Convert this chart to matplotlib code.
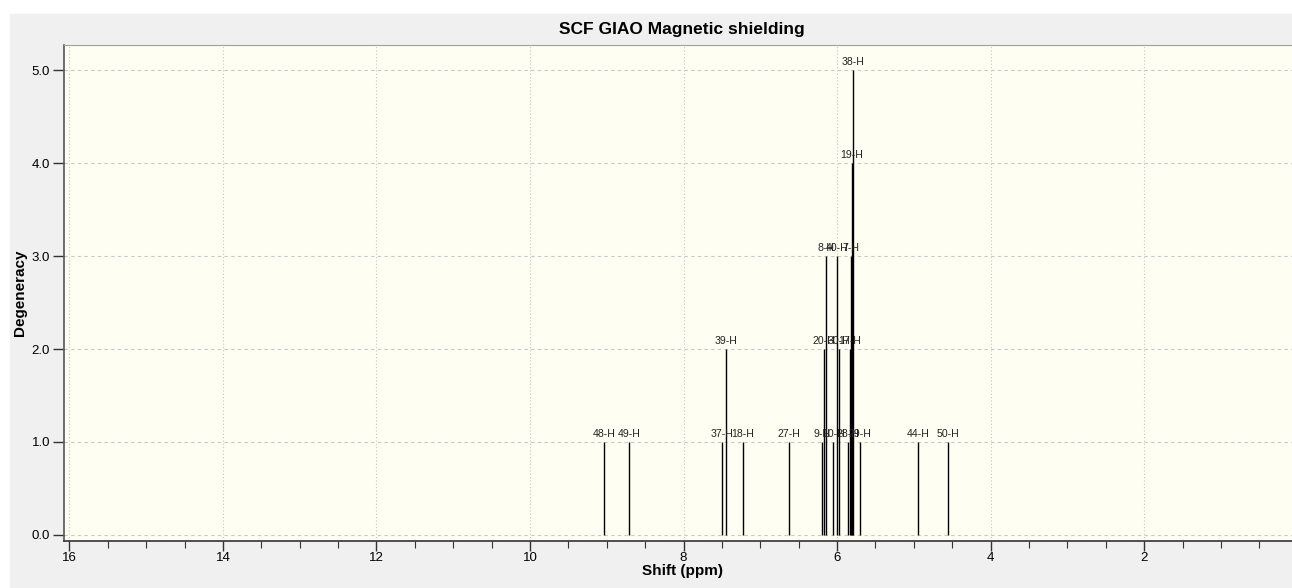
# librarys
# %%
import matplotlib.pyplot as plt
from matplotlib.ticker import MultipleLocator

plt.rcParams['font.family'] = ['Liberation Sans', 'DejaVu Sans']

# %%
# NMR shielding peaks: atom label, shift (ppm), degeneracy
atoms = ['48-H', '49-H', '37-H', '39-H', '18-H', '27-H', '9-H', '20-H', '8-H', '10-H',
         '40-H', '30-H', '28-H', '17-H', '7-H', '19-H', '38-H', '29-H', '44-H', '50-H']
shifts = [9.03, 8.71, 7.50, 7.45, 7.23, 6.63, 6.19, 6.17, 6.15, 6.05,
          6.00, 5.98, 5.86, 5.83, 5.82, 5.81, 5.79, 5.70, 4.94, 4.55]
degeneracy = [1, 1, 1, 2, 1, 1, 1, 2, 3, 1,
              3, 2, 1, 2, 3, 4, 5, 1, 1, 1]

x_ticks = [16, 14, 12, 10, 8, 6, 4, 2]
y_ticks = [0.0, 1.0, 2.0, 3.0, 4.0, 5.0]

# %%
fig = plt.figure(figsize=(12.92, 5.88), dpi=100, facecolor='white')
# grey panel behind the plot
fig.patches.append(plt.Rectangle((10 / 1292, 0), 1, (588 - 14) / 588,
                                 transform=fig.transFigure, color='#f0f0f0', zorder=-10))

ax = fig.add_axes([64 / 1292, 47 / 588, 1236 / 1292, 496 / 588])
ax.set_zorder(1)
ax.set_facecolor('#fefef3')

# stick spectrum
ax.vlines(shifts, 0, degeneracy, color='black', linewidth=1.0, zorder=3)
for a, s, d in zip(atoms, shifts, degeneracy):
    ax.annotate(a, (s, d), xytext=(0, 2), textcoords='offset points',
                ha='center', va='bottom', fontsize=7.6, color='#222222', zorder=4)

ax.set_xlim(16.07, -0.03)
ax.set_ylim(-0.065, 5.27)

ax.set_xticks(x_ticks)
ax.set_xticklabels([str(t) for t in x_ticks])
ax.xaxis.set_minor_locator(MultipleLocator(0.5))
ax.set_yticks(y_ticks)
ax.set_yticklabels(['%.1f' % t for t in y_ticks])

ax.tick_params(axis='x', which='major', length=7, width=1, labelsize=9.5, pad=1, color='#333333')
ax.tick_params(axis='x', which='minor', length=5, width=0.8, color='#333333')
ax.tick_params(axis='y', length=8, width=1, labelsize=9.5, pad=2, color='#333333')

ax.grid(axis='y', color='#c8c8c8', linestyle=(0, (3, 3)), linewidth=0.8)
ax.grid(axis='x', which='major', color='#c8c8c8', linestyle=(0, (1, 2)), linewidth=0.8)
ax.set_axisbelow(True)

for side in ['top', 'right']:
    ax.spines[side].set_color('#a0a0a0')
    ax.spines[side].set_linewidth(0.8)
ax.spines['left'].set_color('#555555')
ax.spines['bottom'].set_color('#333333')
ax.spines['left'].set_linewidth(1.2)
ax.spines['bottom'].set_linewidth(1.2)

ax.text(1.0, 0.127, 'F', transform=ax.transAxes, fontsize=8, ha='right', va='center',
        color='#222222', clip_on=False)

ax.set_title('SCF GIAO Magnetic shielding', fontsize=12.5, fontweight='bold', pad=8)
ax.set_xlabel('Shift (ppm)', fontsize=11, fontweight='bold', labelpad=0)
ax.set_ylabel('Degeneracy', fontsize=11, fontweight='bold', labelpad=3)

fig.savefig('out.png', dpi=100, facecolor=fig.get_facecolor())
# %%
